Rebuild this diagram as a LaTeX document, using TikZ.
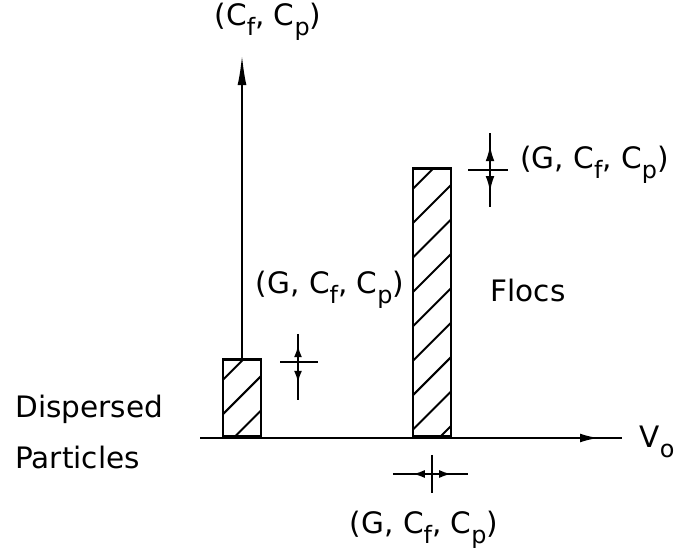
\documentclass[tikz,border=0pt]{standalone}
\usepackage{fontspec}
\setmainfont{DejaVu Sans}
\usepackage{tikz}
\usetikzlibrary{arrows.meta,positioning}
\newcommand{\lowidx}[1]{\raisebox{-0.6ex}{\fontsize{17}{17}\selectfont #1}}
\newcommand{\params}{(G, C\lowidx{f}, C\lowidx{p})}

\begin{document}
\begin{tikzpicture}[
  x=0.025cm,y=-0.025cm,
  axis/.style={line width=2pt},
  bar/.style={draw,line width=1.8pt,minimum width=0.95cm,anchor=south,inner sep=0pt,
    path picture={\foreach \k in {-1,...,10}
      \draw[line width=1.4pt] ([yshift=-0.5cm-\k*0.86cm]path picture bounding box.north west) -- ++(1.2cm,1.2cm);}},
  lbl/.style={font=\fontsize{21}{36}\selectfont,inner sep=0pt},
  ind/.style={line width=1.5pt},
  indtip/.style={-{Latex[length=3mm,width=2mm]},line width=1.5pt}
]
\useasboundingbox (0,0) rectangle (675,557);

% axes and bars
\coordinate (o) at (200,438);
\coordinate (xend) at (622,438);
\coordinate (xtip) at (600,438);
\coordinate (ytip) at (242,55);
\node[bar,minimum height=1.925cm] (disp) at (242,438) {};
\node[bar,minimum height=6.7cm] (floc) at (432,438) {};

\draw[axis] (o) -- (xend);
\draw[axis,-{Latex[length=5mm,width=2.2mm]}] (o) -- (xtip);
\draw[line width=1.4pt,-{Latex[length=7.5mm,width=2.2mm]}] (disp.north) -- (ytip);

% shift marks
\coordinate (dmark) at (298,362);
\coordinate (fmark) at (490,170);
\coordinate (vmark) at (432,474);

\draw[ind] ([xshift=-0.45cm]dmark) -- ([xshift=0.5cm]dmark);
\draw[ind] ([yshift=0.7cm]dmark) -- ([yshift=-0.95cm]dmark);
\draw[indtip] (dmark) -- ([yshift=0.42cm]dmark);
\draw[indtip] (dmark) -- ([yshift=-0.52cm]dmark);

\draw[ind] ([xshift=-0.55cm]fmark) -- ([xshift=0.45cm]fmark);
\draw[ind] ([yshift=0.92cm]fmark) -- ([yshift=-0.92cm]fmark);
\draw[-{Latex[length=4mm,width=2.2mm]},line width=1.5pt] (fmark) -- ([yshift=0.62cm]fmark);
\draw[-{Latex[length=4mm,width=2.2mm]},line width=1.5pt] (fmark) -- ([yshift=-0.55cm]fmark);

\draw[ind] ([xshift=-0.98cm]vmark) -- ([xshift=0.9cm]vmark);
\draw[ind] ([yshift=0.48cm]vmark) -- ([yshift=-0.48cm]vmark);
\draw[indtip] (vmark) -- ([xshift=-0.48cm]vmark);
\draw[indtip] (vmark) -- ([xshift=0.48cm]vmark);

% labels
\node[lbl] (ylab) at (268,22) {(C\lowidx{f}, C\lowidx{p})};
\node[lbl] (vlab) at (657,442) {V\lowidx{o}};
\node[lbl,anchor=west] (toplab) at (520,165) {\params};
\node[lbl] (midlab) at (330,290) {\params};
\node[lbl] (floclab) at (528,290) {Flocs};
\node[lbl] (botlab) at (424,530) {\params};
\node[lbl,anchor=west,align=left] (displab) at (15,432) {Dispersed\\Particles};
\end{tikzpicture}
\end{document}
